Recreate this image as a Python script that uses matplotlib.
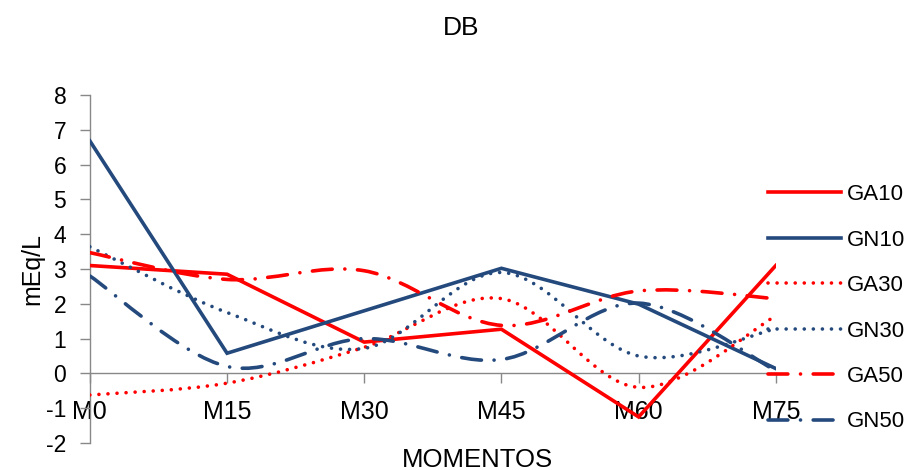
import numpy as np
import matplotlib.pyplot as plt
from matplotlib.path import Path
from matplotlib.patches import PathPatch
from matplotlib.lines import Line2D

plt.rcParams['font.family'] = ['Liberation Sans', 'DejaVu Sans']
plt.rcParams['axes.unicode_minus'] = False

# momentos de coleta e valores de DB (mEq/L)
momentos = ['M0', 'M15', 'M30', 'M45', 'M60', 'M75']
ga10 = [3.1, 2.85, 0.9, 1.27, -1.25, 3.1]
gn10 = [6.68, 0.58, 1.8, 3.02, 1.99, 0.14]
ga30 = [-0.62, -0.28, 0.75, 2.15, -0.4, 1.65]
gn30 = [3.64, 1.75, 0.72, 2.9, 0.5, 1.28]
ga50 = [3.47, 2.7, 2.95, 1.38, 2.37, 2.15]
gn50 = [2.8, 0.2, 1.0, 0.4, 2.02, 0.08]

vermelho = '#FF0000'
azul = '#24497C'
pontilhado = (0, (0.01, 2.5))
traco_ponto = (0, (5.5, 3.5, 0.01, 3.5))


def curva_suave(x, y):
    # bezier no estilo do Excel: tangente dada pelos vizinhos
    pts = np.column_stack([x, y]).astype(float)
    n = len(pts)
    verts = [pts[0]]
    codes = [Path.MOVETO]
    for i in range(n - 1):
        p0 = pts[max(i - 1, 0)]
        p1 = pts[i]
        p2 = pts[i + 1]
        p3 = pts[min(i + 2, n - 1)]
        verts += [p1 + (p2 - p0) / 6, p2 - (p3 - p1) / 6, p2]
        codes += [Path.CURVE4] * 3
    return Path(verts, codes)


fig = plt.figure(figsize=(9.17, 4.70), dpi=100)
ax = fig.add_axes([0.098, 0.0574, 0.748, 0.7405])

x = np.arange(len(momentos))

ax.plot(x, ga10, color=vermelho, lw=2.6, solid_joinstyle='miter', zorder=3)
ax.plot(x, gn10, color=azul, lw=2.6, solid_joinstyle='miter', zorder=3)

suaves = [
    (ga30, vermelho, pontilhado),
    (gn30, azul, pontilhado),
    (ga50, vermelho, traco_ponto),
    (gn50, azul, traco_ponto),
]
for serie, cor, estilo in suaves:
    patch = PathPatch(curva_suave(x, serie), facecolor='none', edgecolor=cor,
                      lw=2.6, linestyle=estilo, capstyle='round', zorder=3)
    ax.add_patch(patch)

ax.set_xlim(0, len(momentos) - 1)
ax.set_ylim(-2, 8)
ax.set_yticks(range(-2, 9))

for lado in ['top', 'right']:
    ax.spines[lado].set_visible(False)
ax.spines['bottom'].set_position(('data', 0))
for lado in ['left', 'bottom']:
    ax.spines[lado].set_color('#888888')
    ax.spines[lado].set_linewidth(1.0)

ax.set_xticks(x)
ax.set_xticklabels(momentos)
ax.tick_params(axis='x', direction='out', length=7, width=1, color='#888888',
               pad=12, labelsize=18)
ax.tick_params(axis='y', direction='out', length=7, width=1, color='#888888',
               pad=10, labelsize=16.5)

ax.set_ylabel('mEq/L', fontsize=18, labelpad=1)
fig.text(0.521, 0.022, 'MOMENTOS', ha='center', va='center', fontsize=18.5)
fig.text(0.503, 0.94, 'DB', ha='center', va='center', fontsize=19)

rotulos = ['GA10', 'GN10', 'GA30', 'GN30', 'GA50', 'GN50']
alcas = [
    Line2D([], [], color=vermelho, lw=2.6),
    Line2D([], [], color=azul, lw=2.6),
    Line2D([], [], color=vermelho, lw=2.6, linestyle=pontilhado, dash_capstyle='round'),
    Line2D([], [], color=azul, lw=2.6, linestyle=pontilhado, dash_capstyle='round'),
    Line2D([], [], color=vermelho, lw=2.6, linestyle=traco_ponto, dash_capstyle='round'),
    Line2D([], [], color=azul, lw=2.6, linestyle=traco_ponto, dash_capstyle='round'),
]
fig.legend(alcas, rotulos, loc='upper left', bbox_to_anchor=(0.828, 0.627),
           frameon=False, fontsize=16, handlelength=3.3, handletextpad=0.25,
           labelspacing=1.1, borderaxespad=0)

fig.savefig('out.png', dpi=100)
